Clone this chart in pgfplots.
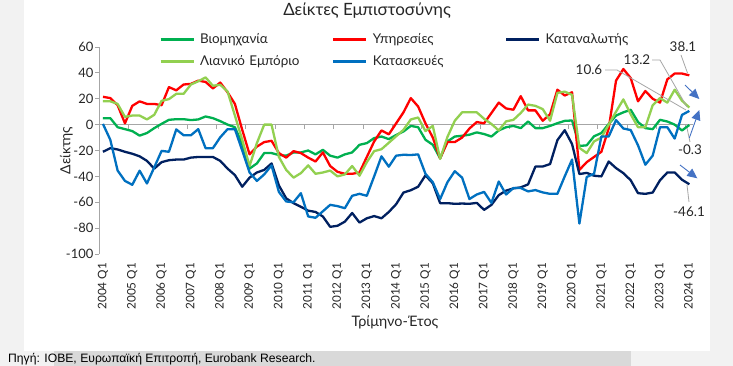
\documentclass[border=0pt]{standalone}
\usepackage{pgfplots}
\pgfplotsset{compat=1.18}
\usepackage{pgfplotstable}
\usepackage{fontspec}
\setmainfont{Lato}
\newfontfamily\srcfont{Liberation Sans}
\usetikzlibrary{arrows.meta}
\definecolor{indgreen}{HTML}{00B050}
\definecolor{srvred}{HTML}{FF0000}
\definecolor{connavy}{HTML}{002060}
\definecolor{retlg}{HTML}{92D050}
\definecolor{cstblue}{HTML}{0070C0}
\definecolor{axisgray}{HTML}{A6A6A6}
\definecolor{bggray}{HTML}{F2F2F2}
\definecolor{bandgray}{HTML}{D9D9D9}
\definecolor{txt}{HTML}{262626}
\definecolor{arrowblue}{HTML}{4472C4}

\pgfplotstableread{
i ind srv con ret cst
0 5 21.5 -21 18 0.5
1 5 20.5 -18.2 18 -11.7
2 -2 15 -19.2 16 -35.5
3 -3.5 1 -21 6 -43.5
4 -5 14.5 -22.5 7 -46.5
5 -8.5 18 -24.5 7 -35.6
6 -6.5 16 -28 4 -45.5
7 -2.7 16 -34 7.6 -33
8 0.6 15 -29 18.4 -20.3
9 3.7 29 -27.5 19.7 -21
10 4.2 26.5 -27 23.8 -3.7
11 4.2 31 -27 23.8 -8.2
12 3.5 31.5 -25.5 31 -8.2
13 4 34 -25 33.5 -3.5
14 6.3 33 -25 36.5 -18.2
15 5 28 -25 30 -18.2
16 2.7 32.5 -28 30.8 -9.8
17 0 25 -34 25.6 -3.5
18 -2 16 -39 7 -3.5
19 -15 -4 -48 -11.7 -20
20 -34 -23 -41 -32 -37
21 -30 -17 -37 -14.3 -43.5
22 -22 -13.5 -35 0 -38.5
23 -22 -12.5 -30 0 -31.5
24 -23.5 -22 -47 -25 -52
25 -24 -25.5 -57 -35 -59.4
26 -21.5 -20.5 -60.7 -41 -60
27 -21.5 -22 -63.5 -37.5 -53
28 -20 -25.5 -66.5 -31.5 -71
29 -23 -28.5 -67.5 -38 -72
30 -19.5 -21.5 -71 -37 -67
31 -24 -32 -79 -35.5 -62
32 -25.5 -36.5 -78.2 -40 -63
33 -23 -38 -75 -38.5 -64.6
34 -21.5 -38 -68.3 -32 -55
35 -15.6 -37 -75.7 -39.5 -53.5
36 -14.3 -25 -72.4 -29 -55
37 -10.4 -13 -70.7 -20.5 -40
38 -9.2 -4.5 -72.4 -19 -24.5
39 -11.2 -7.5 -67.5 -14 -32.5
40 -8 1 -61.5 -9 -24
41 -5.3 9.5 -52.5 -4 -23.3
42 -1 20.5 -50.7 4 -23.5
43 -2 14 -48 5.5 -23
44 -11.7 1 -39.2 -5 -38
45 -15.6 -10 -45.3 -1 -44.5
46 -26 -26 -60.7 -26.5 -57.6
47 -13 -13.5 -60.7 -9.5 -44.5
48 -9.2 -13.5 -61.2 3 -36
49 -8.6 -10 -61 9.5 -41
50 -7.8 -3 -61.2 9.5 -57.5
51 -6 2 -60.5 9.5 -54
52 -7.3 1 -65.9 4.5 -52
53 -9.2 9 -62 0.5 -60.5
54 -4.5 17 -54.5 -4.5 -44
55 -2 12.5 -51 2.5 -54
56 -1 11.5 -49.3 3.7 -49
57 -2.7 22 -48.5 9 -49
58 2.4 11 -46.2 15.5 -51.6
59 -2.7 11 -32.4 14.5 -50.6
60 -2.7 3 -32.4 12 -52.4
61 -1 8 -30.5 3 -53.5
62 1.1 27 -12 24.5 -53.5
63 2.9 22.5 -4.3 25.5 -40
64 3.2 25 -15 23 -27
65 -16.5 -35 -38.2 -18 -76.5
66 -16 -29 -37.3 -22 -40.5
67 -9 -25 -39.5 -13 -38
68 -6.5 -21 -40 -10 -9.2
69 0.5 -3 -28.5 0 -9.2
70 7 34 -33.6 10 3.5
71 9.5 43 -37.5 19.5 -3
72 11.5 36 -43 8 -4.2
73 2 18 -53 -2 -16
74 -2.7 26 -53.5 -2 -31
75 -3.5 20 -52.5 15 -24
76 3.7 17 -43 20.5 -2
77 2.4 35 -37 17 -2
78 0 39.5 -37 27 -10.8
79 -4.5 39.5 -42.6 18.5 7.5
80 -0.3 38.1 -46.1 13.2 10.6
}\datatable

\begin{document}
\begin{tikzpicture}
\path[use as bounding box] (0bp,0bp) rectangle (733bp,366bp);
\fill[bggray] (0bp,0bp) rectangle (733bp,366bp);
\fill[white] (24bp,15bp) rectangle (710bp,366bp);
\fill[bandgray] (54bp,0bp) rectangle (631bp,15bp);
\node[anchor=base west, inner sep=0pt, text=black, font=\srcfont\fontsize{12.2}{14}\selectfont] at (8bp,4bp) {Πηγή: ΙΟΒΕ, Ευρωπαϊκή Επιτροπή, Eurobank Research.};

\begin{axis}[
  at={(99.3bp,112bp)}, anchor=south west,
  scale only axis, width=593.7bp, height=207bp,
  xmin=-0.5, xmax=80.5, ymin=-100, ymax=60,
  axis x line*=bottom, axis y line*=left,
  x axis line style={draw=none},
  y axis line style={draw=axisgray, line width=0.8bp},
  xtick={0,4,...,80},
  xticklabels={2004 Q1,2005 Q1,2006 Q1,2007 Q1,2008 Q1,2009 Q1,2010 Q1,2011 Q1,2012 Q1,2013 Q1,2014 Q1,2015 Q1,2016 Q1,2017 Q1,2018 Q1,2019 Q1,2020 Q1,2021 Q1,2022 Q1,2023 Q1,2024 Q1},
  xtick style={draw=none},
  ytick={-100,-80,...,60},
  yticklabels={-100,-80,-60,-40,-20,0,20,40,60},
  ytick style={draw=axisgray, line width=0.8bp},
  ytick align=outside, major tick length=4bp,
  tick label style={font=\fontsize{13}{15}\selectfont, text=txt},
  xticklabel style={rotate=90, anchor=east, inner sep=0pt, outer xsep=9bp, font=\fontsize{11.8}{14}\selectfont},
  yticklabel style={inner sep=0pt, outer xsep=2bp},
  xlabel={Τρίμηνο-Έτος},
  xlabel style={at={(axis description cs:0.498,-0.3285)}, anchor=center, font=\fontsize{14.5}{16}\selectfont, text=txt},
  ylabel={Δείκτης},
  ylabel style={at={(axis description cs:-0.0556,0.5)}, anchor=center, font=\fontsize{14}{16}\selectfont, text=txt},
  title={Δείκτες Εμπιστοσύνης},
  title style={at={(axis description cs:0.451,1.145)}, anchor=center, font=\fontsize{17}{20}\selectfont, text=txt},
  legend columns=3,
  legend cell align=left,
  legend image code/.code={\draw[#1, line width=2.8bp] (0bp,0bp) -- (33bp,0bp);},
  legend style={draw=none, fill=none, at={(axis description cs:0.1006,0.983)}, anchor=west,
    inner sep=0pt, /tikz/column sep=3bp, /tikz/row sep=6bp,
    nodes={text width=127bp, align=left, inner xsep=2bp, inner ysep=2bp, text height=9.5bp, text depth=2.5bp, font=\fontsize{13.5}{15}\selectfont, text=txt}},
  clip=false,
]
\draw[axisgray, line width=0.8bp] (axis cs:-0.5,0) -- (axis cs:80.5,0);
\pgfplotsinvokeforeach{3.5,7.5,...,79.5}{\draw[axisgray, line width=0.8bp] (axis cs:#1,0) -- ++(0bp,-4bp);}
\addplot[indgreen, line width=2.3bp, line join=round] table[x=i,y=ind]{\datatable};
\addlegendentry{Βιομηχανία}
\addplot[srvred, line width=2.3bp, line join=round] table[x=i,y=srv]{\datatable};
\addlegendentry{Υπηρεσίες}
\addplot[connavy, line width=2.3bp, line join=round] table[x=i,y=con]{\datatable};
\addlegendentry{Καταναλωτής}
\addplot[retlg, line width=2.3bp, line join=round] table[x=i,y=ret]{\datatable};
\addlegendentry{Λιανικό Εμπόριο}
\addplot[cstblue, line width=2.3bp, line join=round] table[x=i,y=cst]{\datatable};
\addlegendentry{Κατασκευές}
\end{axis}

% data labels with leader lines
\begin{scope}[font=\fontsize{13.5}{15}\selectfont, every node/.style={text=txt, inner sep=0pt}]
\node at (683bp,319bp) {38.1};
\draw[axisgray, line width=0.8bp] (681bp,311bp) -- (687.5bp,293bp);
\node at (637bp,306bp) {13.2};
\draw[axisgray, line width=0.8bp] (652bp,306bp) -- (660bp,306bp) -- (687bp,259bp);
\node at (589bp,296bp) {10.6};
\draw[axisgray, line width=0.8bp] (605bp,296bp) -- (617bp,296bp) -- (686bp,256bp);
\node at (690bp,216bp) {-0.3};
\draw[axisgray, line width=0.8bp] (687bp,238bp) -- (690bp,224bp);
\node at (689bp,154bp) {-46.1};
\draw[axisgray, line width=0.8bp] (687bp,181bp) -- (689bp,164bp);
\end{scope}
% arrows
\begin{scope}[arrowblue, line width=0.9bp, -{Triangle[length=10bp, width=9bp]}]
\draw (685bp,281bp) -- (699.3bp,267bp);
\draw (689.3bp,228bp) -- (699.3bp,256bp);
\draw (680bp,201bp) -- (697.3bp,187.7bp);
\end{scope}
\end{tikzpicture}
\end{document}
